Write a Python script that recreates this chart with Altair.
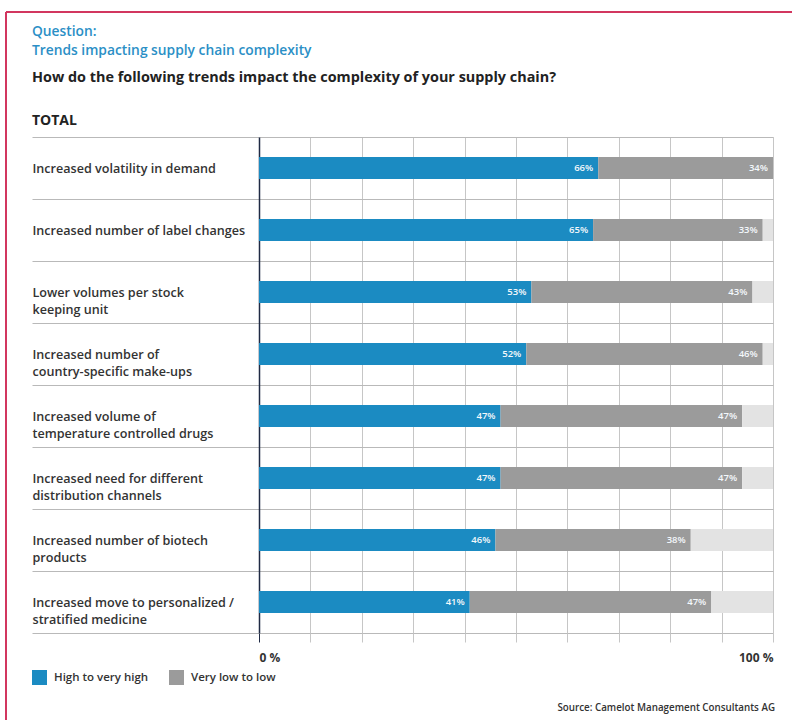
import altair as alt
import pandas as pd

categories = [
    "Increased volatility in demand",
    "Increased number of label changes",
    "Lower volumes per stock|keeping unit",
    "Increased number of|country-specific make-ups",
    "Increased volume of|temperature controlled drugs",
    "Increased need for different|distribution channels",
    "Increased number of biotech|products",
    "Increased move to personalized /|stratified medicine",
]
high = [66, 65, 53, 52, 47, 47, 46, 41]
low = [34, 33, 43, 46, 47, 47, 38, 47]
other = [0, 2, 4, 2, 6, 6, 16, 12]
series_names = ["High to very high", "Very low to low", "Other"]
series_colors = ["#1b8bc2", "#9b9b9b", "#e3e3e3"]

rows = []
for i, c in enumerate(categories):
    for j, (s, vals) in enumerate(zip(series_names, [high, low, other])):
        rows.append({"cat": c, "series": s, "value": vals[i], "ord": j})
df = pd.DataFrame(rows)

FONT = "Open Sans"
W, H = 514, 496
PL, PT = 259, 137

y_enc = alt.Y(
    "cat:N",
    sort=categories,
    scale=alt.Scale(paddingInner=0, paddingOuter=0),
    axis=alt.Axis(
        title=None,
        tickBand="extent",
        grid=True,
        gridColor="#b9b9b9",
        ticks=True,
        tickSize=227,
        tickColor="#b9b9b9",
        domainColor="#1f2a44",
        domainWidth=1.5,
        labelAlign="left",
        labelBaseline="middle",
        labelPadding=0,
        labelExpr="split(datum.label, '|')",
        labelFont=FONT,
        labelFontSize=12.6,
        labelFontWeight=600,
        labelColor="#333333",
        labelLineHeight=17,
        labelLimit=230,
    ),
)

x_axis = alt.Axis(
    title=None,
    values=list(range(0, 101, 10)),
    grid=True,
    gridColor="#c6c6c6",
    domain=False,
    tickSize=9,
    tickColor={"condition": {"test": "datum.value === 0", "value": "#1f2a44"}, "value": "#c6c6c6"},
    labelExpr="datum.value == 0 ? '0 %' : (datum.value == 100 ? '100 %' : '')",
    labelFlush=True,
    labelFont=FONT,
    labelFontSize=12,
    labelFontWeight="bold",
    labelColor="#333333",
    labelPadding=10,
)

bars = alt.Chart(df).mark_bar(size=22).encode(
    x=alt.X("value:Q", stack="zero", scale=alt.Scale(domain=[0, 100], nice=False), axis=x_axis),
    y=y_enc,
    color=alt.Color(
        "series:N",
        scale=alt.Scale(domain=series_names, range=series_colors),
        legend=alt.Legend(
            values=series_names[:2],
            orient="none",
            legendX=-227,
            legendY=533,
            direction="horizontal",
            title=None,
            padding=0,
            symbolType="square",
            symbolSize=225,
            symbolStrokeWidth=0,
            symbolOpacity=1,
            labelFont=FONT,
            labelFontSize=11.5,
            labelFontWeight=600,
            labelColor="#333333",
            labelOffset=7,
            columnPadding=20,
        ),
    ),
    order=alt.Order("ord:Q"),
)

labels = (
    alt.Chart(df)
    .transform_stack(stack="value", groupby=["cat"], as_=["v0", "v1"], sort=[alt.SortField("ord", order="ascending")])
    .transform_filter("datum.series != 'Other'")
    .transform_calculate(lbl="datum.value + '%'")
    .mark_text(align="right", baseline="middle", dx=-5, color="#f4f8fb", font=FONT, fontSize=9.5, fontWeight=600)
    .encode(x=alt.X("v1:Q"), y=alt.Y("cat:N", sort=categories), text="lbl:N")
)


def txt(s, y, size, color, weight, x=-227, align="left"):
    return alt.Chart(alt.Data(values=[{"t": s}])).mark_text(
        align=align, baseline="middle", font=FONT, fontSize=size, color=color, fontWeight=weight
    ).encode(text="t:N", x=alt.value(x), y=alt.value(y))


blank = alt.Data(values=[{"k": 1}])
frame_v = alt.Chart(blank).mark_rule(color="#d2365f", strokeWidth=2).encode(
    x=alt.value(6 - PL), y=alt.value(12 - PT), y2=alt.value(720 - PT)
)
frame_h = alt.Chart(blank).mark_rule(color="#d2365f", strokeWidth=2).encode(
    x=alt.value(6 - PL), x2=alt.value(792 - PL), y=alt.value(12 - PT)
)

texts = [
    txt("Question:", 32 - PT, 13.8, "#2b8fc6", 600),
    txt("Trends impacting supply chain complexity", 51 - PT, 13.8, "#2b8fc6", 600),
    txt("How do the following trends impact the complexity of your supply chain?", 78 - PT, 14.4, "#222222", "bold"),
    txt("TOTAL", 121 - PT, 14, "#222222", "bold"),
    txt("Source: Camelot Management Consultants AG", 708 - PT, 9.8, "#333333", 600, x=775 - PL, align="right"),
]

chart = alt.layer(bars, labels, frame_v, frame_h, *texts).properties(
    width=W,
    height=H,
    autosize=alt.AutoSizeParams(type="none"),
    padding={"left": PL, "top": PT, "right": 792 - PL - W, "bottom": 720 - PT - H},
).configure_view(stroke=None).configure(background="white")

chart.save("out.html", embed_options={"renderer": "svg", "actions": False})
